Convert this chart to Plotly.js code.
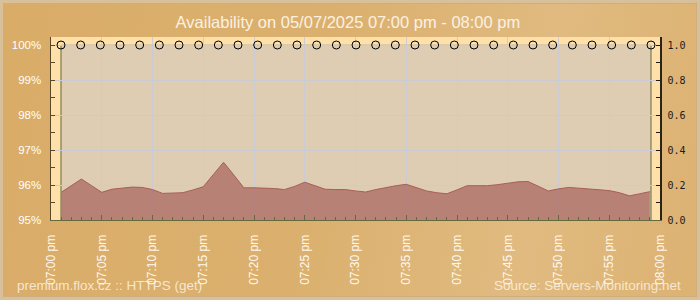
<!DOCTYPE html>
<html>
<head>
<meta charset="utf-8">
<script src="https://cdn.plot.ly/plotly-3.0.1.min.js"></script>
<style>
  html, body { margin: 0; padding: 0; }
  #chart {
    width: 700px; height: 300px; box-sizing: border-box;
    background: linear-gradient(100deg, #D9AC68 0%, #DBB06E 45%, #E0BA80 75%, #DCB272 100%);
    box-shadow: inset 0 0 0 3px #D8C09A, inset 0 0 0 4px #CFAE7E;
  }
</style>
</head>
<body>
<div id="chart"></div>
<script>
// ---- data ----
const day = '2025-05-07 ';
const minutes = ['19:01','19:02','19:03','19:04','19:05','19:06','19:07','19:08','19:09','19:10',
  '19:11','19:12','19:13','19:14','19:15','19:16','19:17','19:18','19:19','19:20',
  '19:21','19:22','19:23','19:24','19:25','19:26','19:27','19:28','19:29','19:30',
  '19:31','19:32','19:33','19:34','19:35','19:36','19:37','19:38','19:39','19:40',
  '19:41','19:42','19:43','19:44','19:45','19:46','19:47','19:48','19:49','19:50',
  '19:51','19:52','19:53','19:54','19:55','19:56','19:57','19:58','19:59'];
const availability = [95.79,95.98,96.17,95.98,95.79,95.88,95.91,95.94,95.93,95.87,
  95.76,95.78,95.78,95.86,95.95,96.30,96.65,96.29,95.92,95.92,
  95.92,95.90,95.87,95.96,96.08,95.99,95.88,95.87,95.87,95.83,
  95.80,95.87,95.93,95.98,96.02,95.93,95.83,95.78,95.75,95.86,
  95.98,95.98,95.98,96.01,96.05,96.09,96.10,95.97,95.83,95.89,
  95.93,95.91,95.89,95.87,95.84,95.78,95.69,95.75,95.81];
const checkIndex = [0,1,2,3,4,5,6,7,8,9,10,11,12,13,14,15,16,17,18,19,20,21,22,23,24,25,26,27,28,29,30];
const checkStatus = [1,1,1,1,1,1,1,1,1,1,1,1,1,1,1,1,1,1,1,1,1,1,1,1,1,1,1,1,1,1,1];
const tickTimes = ['19:00','19:05','19:10','19:15','19:20','19:25','19:30','19:35','19:40','19:45','19:50','19:55','20:00'];
const tickLabels = ['07:00 pm','07:05 pm','07:10 pm','07:15 pm','07:20 pm','07:25 pm','07:30 pm','07:35 pm','07:40 pm','07:45 pm','07:50 pm','07:55 pm','08:00 pm'];
const titleText = 'Availability on 05/07/2025 07:00 pm - 08:00 pm';
const footerLeft = 'premium.flox.cz :: HTTPS (get)';
const footerRight = 'Source: Servers-Monitoring.net';

// ---- layout constants ----
const Y_RANGE = [95, 100.2286];
const Y2_RANGE = [0, 1.0457];
const X2_RANGE = [-0.5085, 30.458];
const INNER_L = 0.01642;   // inner frame left edge (paper fraction)
const INNER_R = 0.98522;   // inner frame right edge (paper fraction)
const PEACH = '#FFE0A8';
const TAN = '#DECDB3';
const OLIVE = '#656A3E';
const GRID = 'rgb(204,202,210)';

const traces = [
  {
    x: minutes.map(m => day + m), y: availability,
    type: 'scatter', mode: 'lines', fill: 'tozeroy',
    line: {color: '#A85E58', width: 1, shape: 'linear'},
    fillcolor: 'rgba(176,112,104,0.82)',
    xaxis: 'x', yaxis: 'y', hoverinfo: 'skip'
  },
  {
    x: checkIndex, y: checkStatus,
    type: 'scatter', mode: 'markers',
    marker: {symbol: 'circle', size: 8, color: 'rgba(0,0,0,0)', line: {color: '#000', width: 1}},
    xaxis: 'x2', yaxis: 'y2', hoverinfo: 'skip', cliponaxis: false
  }
];

const layout = {
  width: 700, height: 300,
  margin: {l: 51, r: 40, t: 37, b: 80},
  paper_bgcolor: 'rgba(0,0,0,0)',
  plot_bgcolor: TAN,
  showlegend: false,
  title: {
    text: titleText, x: 0.497, xref: 'container', xanchor: 'center',
    y: 0.927, yref: 'container', yanchor: 'middle',
    font: {family: 'Liberation Sans, Arial, sans-serif', size: 16.5, color: '#FBF1E2'}
  },
  xaxis: {
    type: 'date',
    range: [day + '19:00', day + '20:00'],
    tickmode: 'array', tickvals: tickTimes.map(t => day + t), ticktext: tickLabels,
    tickangle: -90,
    tickfont: {family: 'Liberation Sans, Arial, sans-serif', size: 12, color: '#FFF7EC'},
    ticks: 'inside', ticklen: 5, tickcolor: OLIVE, tickwidth: 1,
    ticklabelstandoff: 9,
    minor: {tickmode: 'linear', tick0: day + '19:00', dtick: 60000, ticks: 'inside', ticklen: 3, tickcolor: OLIVE, showgrid: false},
    showgrid: true, gridcolor: GRID, gridwidth: 1,
    showline: true, linecolor: OLIVE, linewidth: 1,
    zeroline: false, fixedrange: true
  },
  xaxis2: {
    overlaying: 'x', range: X2_RANGE, visible: false, fixedrange: true
  },
  yaxis: {
    range: Y_RANGE, tickmode: 'linear', tick0: 95, dtick: 1,
    ticksuffix: '%', tickformat: 'd',
    tickfont: {family: 'Liberation Sans, Arial, sans-serif', size: 11.5, color: '#FFFFFF'},
    ticks: 'inside', ticklen: 4, tickcolor: '#5A4828', tickwidth: 1,
    ticklabelstandoff: 6,
    minor: {dtick: 0.5, ticks: 'inside', ticklen: 4, tickcolor: '#5A4828', showgrid: false},
    showgrid: true, gridcolor: GRID, gridwidth: 1,
    showline: true, linecolor: '#5A4828', linewidth: 1.5,
    zeroline: false, fixedrange: true
  },
  yaxis2: {
    overlaying: 'y', side: 'right', range: Y2_RANGE,
    tickmode: 'linear', tick0: 0, dtick: 0.2, tickformat: '.1f',
    tickfont: {family: 'DejaVu Sans Mono, monospace', size: 10, color: '#1A1A1A'},
    ticks: 'inside', ticklen: 4, tickcolor: '#1A1A1A', tickwidth: 1,
    ticklabelstandoff: 4,
    minor: {dtick: 0.1, ticks: 'inside', ticklen: 4, tickcolor: '#1A1A1A', showgrid: false},
    showgrid: false, showline: true, linecolor: '#2A2418', linewidth: 1.5,
    zeroline: false, fixedrange: true
  },
  shapes: [
    // peach frame strips (hide gridlines there)
    {type: 'rect', layer: 'between', xref: 'paper', yref: 'y', x0: 0, x1: INNER_L, y0: Y_RANGE[0], y1: Y_RANGE[1], fillcolor: PEACH, line: {width: 0}},
    {type: 'rect', layer: 'between', xref: 'paper', yref: 'y', x0: INNER_R, x1: 1, y0: Y_RANGE[0], y1: Y_RANGE[1], fillcolor: PEACH, line: {width: 0}},
    {type: 'rect', layer: 'between', xref: 'paper', yref: 'y', x0: 0, x1: 1, y0: 100, y1: Y_RANGE[1], fillcolor: PEACH, line: {width: 0}},
    // inner frame edges
    {type: 'line', layer: 'between', xref: 'paper', yref: 'y', x0: INNER_L, x1: INNER_R, y0: 100, y1: 100, line: {color: '#BDB8A8', width: 1}},
    {type: 'line', layer: 'between', xref: 'paper', yref: 'y', x0: INNER_L, x1: INNER_L, y0: 95, y1: 100, line: {color: OLIVE, width: 1}},
    {type: 'line', layer: 'between', xref: 'paper', yref: 'y', x0: INNER_R, x1: INNER_R, y0: 95, y1: 100, line: {color: OLIVE, width: 1}}
  ],
  annotations: [
    {text: footerLeft, xref: 'paper', yref: 'paper', x: -0.0596, y: -0.36, xanchor: 'left', yanchor: 'middle', showarrow: false,
     font: {family: 'Liberation Sans, Arial, sans-serif', size: 13.5, color: 'rgba(255,248,235,0.78)'}},
    {text: footerRight, xref: 'paper', yref: 'paper', x: 1.0378, y: -0.36, xanchor: 'right', yanchor: 'middle', showarrow: false,
     font: {family: 'Liberation Sans, Arial, sans-serif', size: 13.5, color: 'rgba(255,248,235,0.78)'}}
  ]
};

Plotly.newPlot('chart', traces, layout, {displayModeBar: false, staticPlot: true});
</script>
</body>
</html>
